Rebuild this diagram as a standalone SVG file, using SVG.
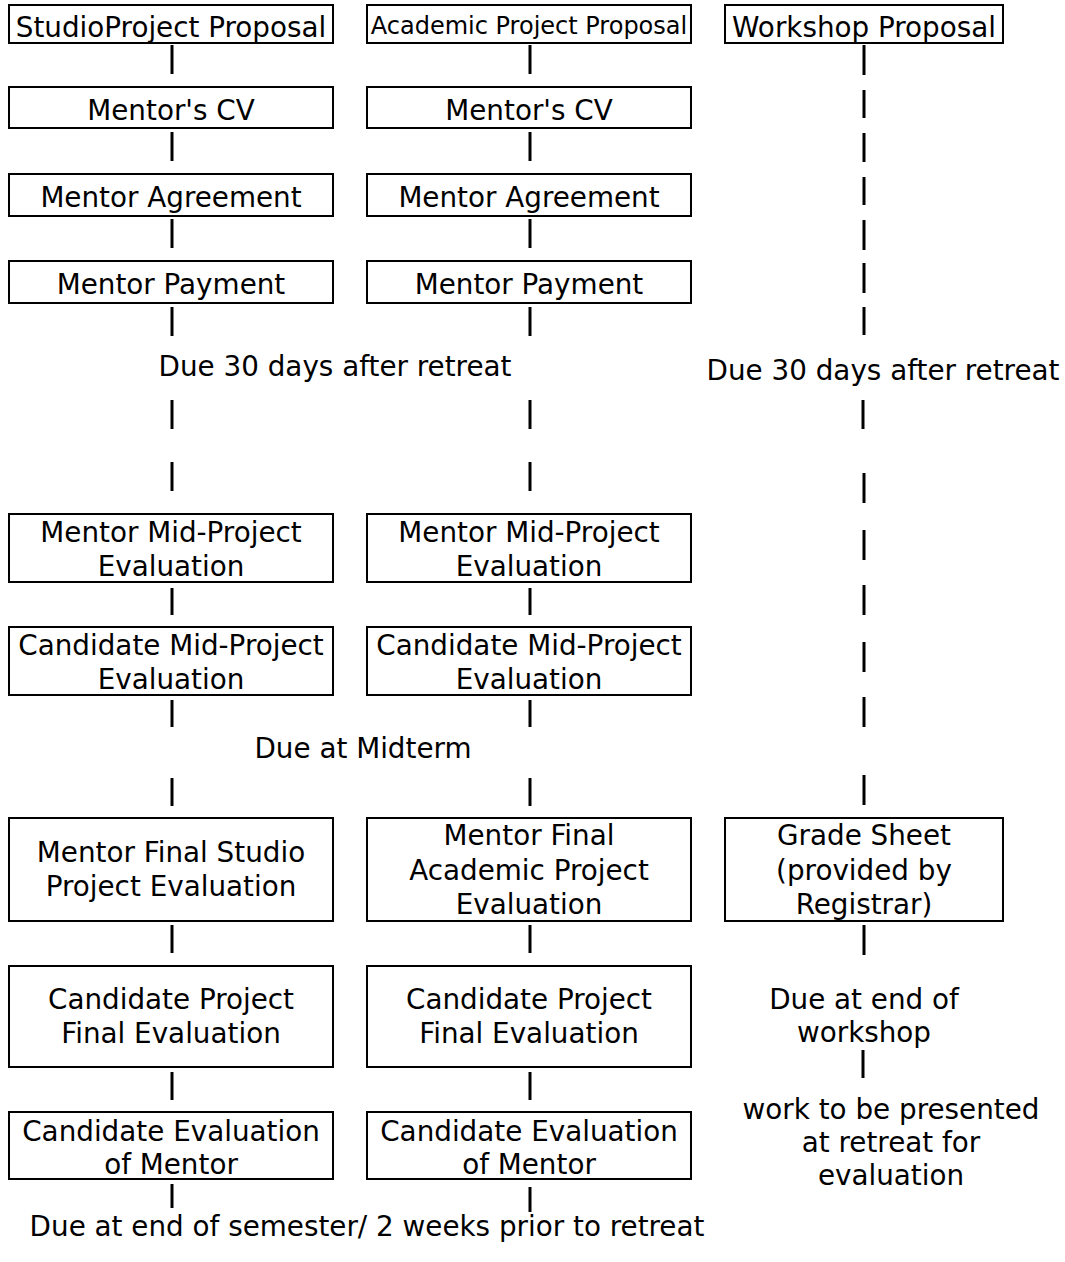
<svg xmlns="http://www.w3.org/2000/svg" width="1065" height="1262" viewBox="0 0 1065 1262">
<style>
.box{fill:#fff;stroke:#000;stroke-width:2}
.t{font-family:"DejaVu Sans",Verdana,sans-serif;font-size:27.8px;fill:#000;text-anchor:middle}
.s{font-size:24px}
.c line{stroke:#000;stroke-width:3}
</style>
<rect width="1065" height="1262" fill="#fff"/>
<g id="connectors" class="c">
<line x1="172" y1="45" x2="172" y2="74"/>
<line x1="172" y1="132" x2="172" y2="161"/>
<line x1="172" y1="219" x2="172" y2="248"/>
<line x1="172" y1="307" x2="172" y2="336"/>
<line x1="172" y1="400" x2="172" y2="429"/>
<line x1="172" y1="462" x2="172" y2="491"/>
<line x1="172" y1="588" x2="172" y2="615"/>
<line x1="172" y1="700" x2="172" y2="727"/>
<line x1="172" y1="778" x2="172" y2="806"/>
<line x1="172" y1="925" x2="172" y2="953"/>
<line x1="172" y1="1072" x2="172" y2="1100"/>
<line x1="172" y1="1184" x2="172" y2="1208"/>
<line x1="530" y1="45" x2="530" y2="74"/>
<line x1="530" y1="132" x2="530" y2="161"/>
<line x1="530" y1="219" x2="530" y2="248"/>
<line x1="530" y1="307" x2="530" y2="336"/>
<line x1="530" y1="400" x2="530" y2="429"/>
<line x1="530" y1="462" x2="530" y2="491"/>
<line x1="530" y1="588" x2="530" y2="615"/>
<line x1="530" y1="700" x2="530" y2="727"/>
<line x1="530" y1="778" x2="530" y2="806"/>
<line x1="530" y1="925" x2="530" y2="953"/>
<line x1="530" y1="1072" x2="530" y2="1100"/>
<line x1="530" y1="1187" x2="530" y2="1212"/>
<line x1="864" y1="45" x2="864" y2="75"/>
<line x1="864" y1="90" x2="864" y2="118"/>
<line x1="864" y1="133" x2="864" y2="162"/>
<line x1="864" y1="177" x2="864" y2="205"/>
<line x1="864" y1="220" x2="864" y2="250"/>
<line x1="864" y1="263" x2="864" y2="293"/>
<line x1="864" y1="307" x2="864" y2="335"/>
<line x1="863" y1="400" x2="863" y2="429"/>
<line x1="864" y1="473" x2="864" y2="503"/>
<line x1="864" y1="530" x2="864" y2="560"/>
<line x1="864" y1="585" x2="864" y2="615"/>
<line x1="864" y1="642" x2="864" y2="672"/>
<line x1="864" y1="697" x2="864" y2="727"/>
<line x1="864" y1="775" x2="864" y2="805"/>
<line x1="864" y1="925" x2="864" y2="955"/>
<line x1="863" y1="1050" x2="863" y2="1078"/>
</g>
<g id="studio-proposal"><rect class="box" x="9" y="5" width="324" height="38"/><text class="t" x="171" y="37">StudioProject Proposal</text></g>
<g id="academic-proposal"><rect class="box" x="367" y="5" width="324" height="38"/><text class="t s" x="529" y="34">Academic Project Proposal</text></g>
<g id="workshop-proposal"><rect class="box" x="725" y="5" width="278" height="38"/><text class="t" x="864" y="37">Workshop Proposal</text></g>
<g id="studio-cv"><rect class="box" x="9" y="87" width="324" height="41"/><text class="t" x="171" y="120">Mentor's CV</text></g>
<g id="academic-cv"><rect class="box" x="367" y="87" width="324" height="41"/><text class="t" x="529" y="120">Mentor's CV</text></g>
<g id="studio-agreement"><rect class="box" x="9" y="174" width="324" height="42"/><text class="t" x="171" y="207">Mentor Agreement</text></g>
<g id="academic-agreement"><rect class="box" x="367" y="174" width="324" height="42"/><text class="t" x="529" y="207">Mentor Agreement</text></g>
<g id="studio-payment"><rect class="box" x="9" y="261" width="324" height="42"/><text class="t" x="171" y="294">Mentor Payment</text></g>
<g id="academic-payment"><rect class="box" x="367" y="261" width="324" height="42"/><text class="t" x="529" y="294">Mentor Payment</text></g>
<g id="due30-left"><text class="t" x="335" y="376">Due 30 days after retreat</text></g>
<g id="due30-right"><text class="t" x="883" y="380">Due 30 days after retreat</text></g>
<g id="studio-mentor-mid"><rect class="box" x="9" y="514" width="324" height="68"/><text class="t" x="171" y="542">Mentor Mid-Project</text><text class="t" x="171" y="576">Evaluation</text></g>
<g id="academic-mentor-mid"><rect class="box" x="367" y="514" width="324" height="68"/><text class="t" x="529" y="542">Mentor Mid-Project</text><text class="t" x="529" y="576">Evaluation</text></g>
<g id="studio-candidate-mid"><rect class="box" x="9" y="627" width="324" height="68"/><text class="t" x="171" y="655">Candidate Mid-Project</text><text class="t" x="171" y="689">Evaluation</text></g>
<g id="academic-candidate-mid"><rect class="box" x="367" y="627" width="324" height="68"/><text class="t" x="529" y="655">Candidate Mid-Project</text><text class="t" x="529" y="689">Evaluation</text></g>
<g id="due-midterm"><text class="t" x="363" y="758">Due at Midterm</text></g>
<g id="studio-mentor-final"><rect class="box" x="9" y="818" width="324" height="103"/><text class="t" x="171" y="862">Mentor Final Studio</text><text class="t" x="171" y="896">Project Evaluation</text></g>
<g id="academic-mentor-final"><rect class="box" x="367" y="818" width="324" height="103"/><text class="t" x="529" y="845">Mentor Final</text><text class="t" x="529" y="880">Academic Project</text><text class="t" x="529" y="914">Evaluation</text></g>
<g id="grade-sheet"><rect class="box" x="725" y="818" width="278" height="103"/><text class="t" x="864" y="845">Grade Sheet</text><text class="t" x="864" y="880">(provided by</text><text class="t" x="864" y="914">Registrar)</text></g>
<g id="studio-candidate-final"><rect class="box" x="9" y="966" width="324" height="101"/><text class="t" x="171" y="1009">Candidate Project</text><text class="t" x="171" y="1043">Final Evaluation</text></g>
<g id="academic-candidate-final"><rect class="box" x="367" y="966" width="324" height="101"/><text class="t" x="529" y="1009">Candidate Project</text><text class="t" x="529" y="1043">Final Evaluation</text></g>
<g id="due-workshop"><text class="t" x="864" y="1009">Due at end of</text><text class="t" x="864" y="1042">workshop</text></g>
<g id="studio-eval-mentor"><rect class="box" x="9" y="1112" width="324" height="67"/><text class="t" x="171" y="1141">Candidate Evaluation</text><text class="t" x="171" y="1174">of Mentor</text></g>
<g id="academic-eval-mentor"><rect class="box" x="367" y="1112" width="324" height="67"/><text class="t" x="529" y="1141">Candidate Evaluation</text><text class="t" x="529" y="1174">of Mentor</text></g>
<g id="work-presented"><text class="t" x="891" y="1119">work to be presented</text><text class="t" x="891" y="1152">at retreat for</text><text class="t" x="891" y="1185">evaluation</text></g>
<g id="due-semester"><text class="t" x="367" y="1236">Due at end of semester/ 2 weeks prior to retreat</text></g>
</svg>
